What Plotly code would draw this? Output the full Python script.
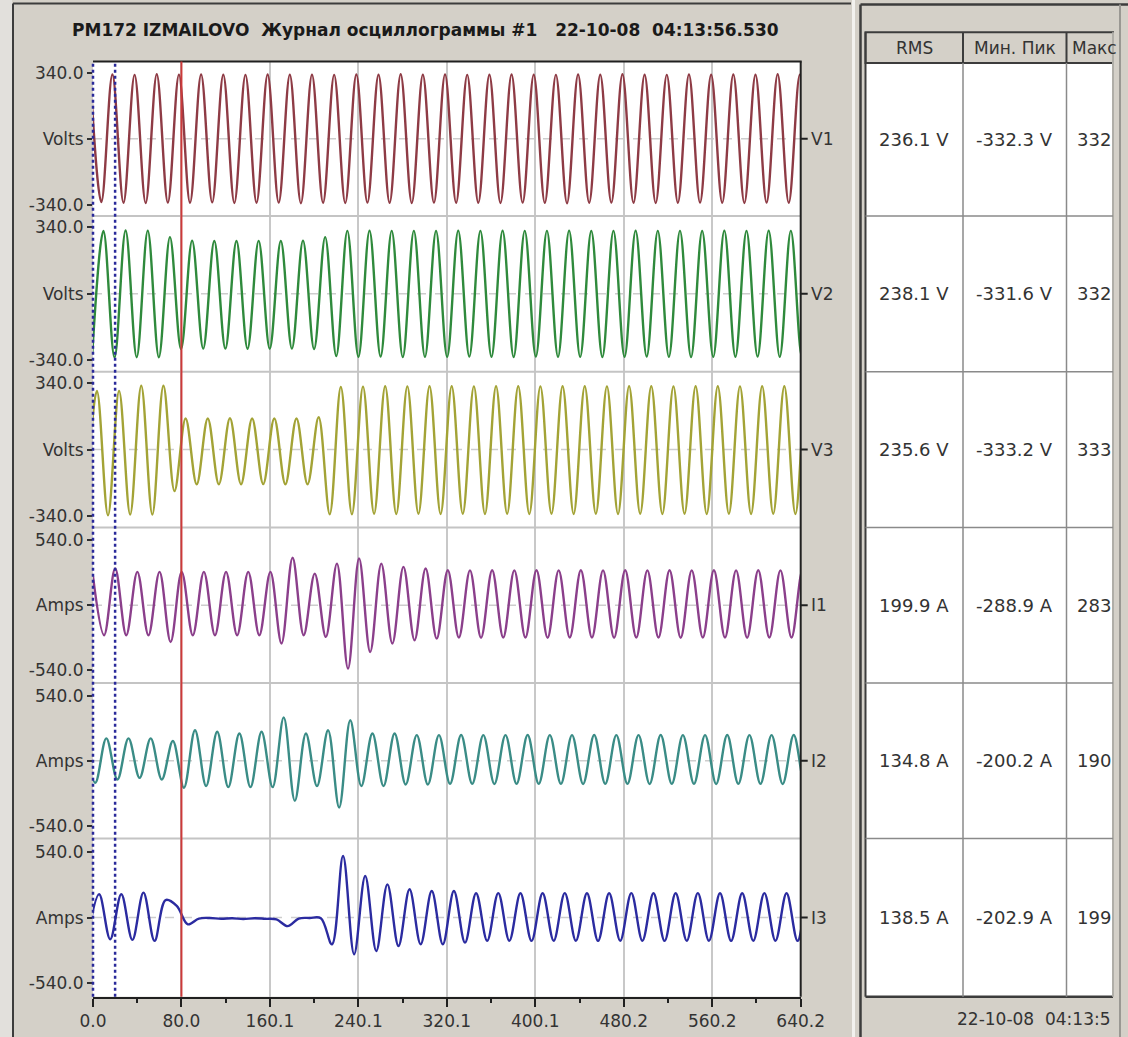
import plotly.graph_objects as go

W, H = 1128, 1037

# ---------------- data ----------------
TITLE = "PM172 IZMAILOVO  Журнал осциллограммы #1   22-10-08  04:13:56.530"
CHANNELS = ["V1", "V2", "V3", "I1", "I2", "I3"]
UNITS = ["Volts", "Volts", "Volts", "Amps", "Amps", "Amps"]
SCALE_MAX = [340.0, 340.0, 340.0, 540.0, 540.0, 540.0]

# waveform extrema (alternating peaks/troughs), read every half cycle
HALF_PERIOD_MS = 10.03
FIRST_EXTREMUM_MS = [-2.5, -0.6, -6.5, 0.0, -8.0, -4.5]

V1_EXT = [330, -326, 331, -330, 329, -331, 332, -329, 330, -330,
          331, -328, 330, -331, 329, -330, 331, -329, 330, -332,
          330, -330, 329, -331, 331, -329, 330, -330, 332, -331,
          330, -329, 331, -330, 329, -330, 330, -331, 331, -329,
          330, -330, 329, -332, 331, -330, 330, -329, 332, -330,
          330, -331, 329, -330, 331, -329, 330, -330, 331, -331,
          330, -329, 332, -330, 330, -331, 330]
V2_EXT = [-300, 322, -325, 324, -324, 323, -324, 290, -282, 272,
          -280, 270, -280, 270, -281, 271, -280, 270, -280, 272,
          -282, 290, -318, 322, -322, 323, -321, 322, -323, 322,
          -322, 321, -322, 323, -321, 322, -322, 323, -323, 322,
          -321, 322, -322, 323, -322, 321, -323, 322, -322, 323,
          -321, 322, -322, 322, -323, 321, -322, 323, -322, 322,
          -321, 323, -322, 322, -323, 322, -322]
V3_EXT = [-330, 300, -336, 300, -332, 326, -332, 326, -212, 159,
          -177, 159, -177, 160, -177, 159, -176, 159, -177, 159,
          -177, 165, -330, 320, -330, 322, -328, 324, -329, 323,
          -328, 324, -329, 324, -328, 323, -329, 324, -328, 324,
          -329, 323, -328, 324, -329, 324, -328, 323, -329, 324,
          -328, 324, -329, 323, -328, 324, -329, 324, -328, 323,
          -329, 324, -328, 324, -329, 323, -328]
I1_EXT = [240, -249, 305, -249, 277, -249, 277, -305, 277, -249,
          277, -249, 277, -249, 277, -249, 277, -318, 395, -249,
          263, -263, 346, -526, 388, -388, 346, -318, 319, -291,
          305, -277, 291, -268, 290, -270, 291, -268, 290, -268,
          291, -270, 290, -268, 291, -268, 290, -270, 291, -268,
          290, -268, 291, -270, 290, -268, 291, -268, 290, -270,
          291, -268, 290, -268, 291, -270, 290]
I2_EXT = [186, -183, 186, -156, 186, -142, 186, -156, 164, -224,
          254, -210, 241, -219, 227, -219, 241, -219, 360, -333,
          227, -210, 254, -388, 336, -210, 227, -210, 227, -197,
          213, -197, 213, -192, 214, -192, 213, -193, 213, -192,
          214, -192, 213, -192, 213, -193, 214, -192, 213, -192,
          213, -193, 214, -192, 213, -192, 213, -193, 214, -192,
          213, -192, 213, -193, 214, -192, 213]
I3_EXT = [-150, 191, -178, 191, -183, 205, -191, 144, 96, -55,
          -8, -3, -10, -5, -12, -5, -10, -15, -70, -8,
          -3, -5, -219, 505, -301, 341, -274, 273, -233, 232,
          -219, 218, -219, 218, -205, 200, -190, 201, -190, 200,
          -191, 200, -190, 201, -190, 200, -191, 200, -190, 201,
          -190, 200, -191, 200, -190, 201, -190, 200, -191, 200,
          -190, 201, -190, 200, -191, 200, -186]
SERIES = [V1_EXT, V2_EXT, V3_EXT, I1_EXT, I2_EXT, I3_EXT]

X_MAX = 640.2
X_TICK_VALS = [0.0, 80.025, 160.05, 240.075, 320.1, 400.125, 480.15, 560.175, 640.2]
X_TICK_TEXT = ["0.0", "80.0", "160.1", "240.1", "320.1", "400.1", "480.2", "560.2", "640.2"]
CURSOR_BLUE_MS = [0.0, 20.0]
CURSOR_RED_MS = 80.0

TABLE_HEADERS = ["RMS", "Мин. Пик", "Макс"]
RMS_TEXT = ["236.1 V", "238.1 V", "235.6 V", "199.9 A", "134.8 A", "138.5 A"]
MIN_PEAK_TEXT = ["-332.3 V", "-331.6 V", "-333.2 V", "-288.9 A", "-200.2 A", "-202.9 A"]
MAX_PEAK_TEXT = ["332", "332", "333", "283", "190", "199"]
FOOTER_TEXT = "22-10-08  04:13:5"

# ---------------- styling / geometry ----------------
COLORS = ["#8e3b45", "#2f8a3c", "#a3a336", "#8b3f8b", "#3a8c86", "#2b2ba0"]
FONT = "DejaVu Sans"
TXT = "#333333"
BG = "#d4d0c8"
PLOT_L, PLOT_R = 93.0, 800.7
PANEL_EDGES = [61.5, 216.0, 371.7, 527.5, 683.0, 838.5, 996.7]
Y_HALF = [398, 398, 398, 646, 646, 649]


def fx(x):
    return x / W


def fy(y):
    return 1 - y / H


def t_to_paper(t):
    # position of a time value on the paper (for unclipped cursor lines)
    return fx(PLOT_L) + (t / X_MAX) * (fx(PLOT_R) - fx(PLOT_L))


fig = go.Figure()
for i, ext in enumerate(SERIES):
    t = [FIRST_EXTREMUM_MS[i] + k * HALF_PERIOD_MS for k in range(len(ext))]
    fig.add_trace(go.Scatter(
        x=t, y=ext, mode="lines", name=CHANNELS[i], showlegend=False,
        xaxis="x", yaxis="y" if i == 0 else f"y{i + 1}",
        line=dict(color=COLORS[i], width=2.4, shape="spline"),
        hoverinfo="skip"))

mids = [(X_TICK_VALS[k] + X_TICK_VALS[k + 1]) / 2 for k in range(len(X_TICK_VALS) - 1)]

layout = dict(
    width=W, height=H, autosize=False,
    margin=dict(l=0, r=0, t=0, b=0, pad=0, autoexpand=False),
    paper_bgcolor=BG, plot_bgcolor="white",
    font=dict(family=FONT, size=17, color=TXT),
    xaxis=dict(domain=[fx(PLOT_L), fx(PLOT_R)], range=[0, X_MAX], anchor="y6",
               tickmode="array", tickvals=X_TICK_VALS, ticktext=X_TICK_TEXT,
               ticks="outside", ticklen=8, tickwidth=2, tickcolor="#202020",
               showline=True, linecolor="#202020", linewidth=2,
               showgrid=True, gridcolor="#c8c8c8", gridwidth=2, zeroline=False,
               automargin=False,
               tickfont=dict(family=FONT, size=17, color=TXT),
               minor=dict(tickmode="array", tickvals=mids, ticks="outside",
                          ticklen=4, tickwidth=2, tickcolor="#202020", showgrid=False)),
    showlegend=False,
)
for i in range(6):
    m = SCALE_MAX[i]
    key = "yaxis" if i == 0 else f"yaxis{i + 1}"
    layout[key] = dict(
        domain=[fy(PANEL_EDGES[i + 1]), fy(PANEL_EDGES[i])],
        range=[-Y_HALF[i], Y_HALF[i]], anchor="x",
        tickmode="array", tickvals=[-m, 0, m],
        ticktext=[f"{-m:.1f}", UNITS[i], f"{m:.1f}"],
        ticks="outside", ticklen=5, tickwidth=2, tickcolor="#303030",
        showgrid=False, zeroline=False, showline=False, automargin=False,
        tickfont=dict(family=FONT, size=17, color=TXT))
fig.update_layout(**layout)

shapes = []
ann = []
DARK = "#3c3c3c"

# window frame pieces
shapes.append(dict(type="rect", xref="paper", yref="paper", x0=0, x1=fx(12), y0=0, y1=1,
                   fillcolor="#e2e0dc", line=dict(width=0), layer="below"))
shapes.append(dict(type="line", xref="paper", yref="paper", x0=fx(13), x1=fx(13),
                   y0=0, y1=fy(3.5), line=dict(color=DARK, width=2)))
shapes.append(dict(type="line", xref="paper", yref="paper", x0=fx(13), x1=fx(851),
                   y0=fy(3.5), y1=fy(3.5), line=dict(color=DARK, width=2)))
shapes.append(dict(type="line", xref="paper", yref="paper", x0=fx(853.5), x1=fx(853.5),
                   y0=0, y1=1, line=dict(color="#f2f1ee", width=3)))

# dashed zero lines
for i in range(6):
    yr = "y" if i == 0 else f"y{i + 1}"
    shapes.append(dict(type="line", xref="x", yref=yr, x0=0, x1=X_MAX, y0=0, y1=0,
                       line=dict(color="#cdcdcd", width=1.5, dash="dash"), layer="below"))

# panel separators
for e in PANEL_EDGES[1:-1]:
    shapes.append(dict(type="line", xref="paper", yref="paper", x0=fx(PLOT_L), x1=fx(PLOT_R),
                       y0=fy(e), y1=fy(e), line=dict(color="#c4c4c4", width=2)))

# plot top and right borders
shapes.append(dict(type="line", xref="paper", yref="paper", x0=fx(PLOT_L), x1=fx(PLOT_R + 1),
                   y0=fy(PANEL_EDGES[0]), y1=fy(PANEL_EDGES[0]), line=dict(color="#202020", width=2)))
shapes.append(dict(type="line", xref="paper", yref="paper", x0=fx(PLOT_R), x1=fx(PLOT_R),
                   y0=fy(PANEL_EDGES[-1]), y1=fy(PANEL_EDGES[0]), line=dict(color="#202020", width=2)))

# cursors
for c in CURSOR_BLUE_MS:
    xp = t_to_paper(c)
    shapes.append(dict(type="line", xref="paper", yref="paper", x0=xp, x1=xp,
                       y0=fy(PANEL_EDGES[-1]), y1=fy(PANEL_EDGES[0]),
                       line=dict(color="#2a2a9a", width=2.5, dash="dot")))
xr = t_to_paper(CURSOR_RED_MS)
shapes.append(dict(type="line", xref="paper", yref="paper", x0=xr, x1=xr,
                   y0=fy(PANEL_EDGES[-1]), y1=fy(PANEL_EDGES[0]),
                   line=dict(color="#cc3a3a", width=2)))

# right channel labels
for i in range(6):
    yr = "y" if i == 0 else f"y{i + 1}"
    shapes.append(dict(type="line", xref="paper", yref=yr, x0=fx(PLOT_R), x1=fx(PLOT_R + 7),
                       y0=0, y1=0, line=dict(color="#202020", width=2)))
    ann.append(dict(xref="paper", yref=yr, x=fx(PLOT_R + 8), y=0, text=CHANNELS[i],
                    showarrow=False, xanchor="left", yanchor="middle",
                    font=dict(family=FONT, size=17, color=TXT)))

# title
ann.append(dict(xref="paper", yref="paper", x=fx(425), y=fy(30), text=f"<b>{TITLE}</b>",
                showarrow=False, xanchor="center", yanchor="middle",
                font=dict(family=FONT, size=17, color="#1a1a1a")))

# ---------------- right table ----------------
TL, TR = 865.5, 1113.0
HDR_T, HDR_B = 32.3, 63.0
COLS = [TL, 963.0, 1066.5, TR]
shapes.append(dict(type="line", xref="paper", yref="paper", x0=fx(860.5), x1=fx(860.5),
                   y0=0, y1=fy(4.5), line=dict(color=DARK, width=2.5)))
shapes.append(dict(type="line", xref="paper", yref="paper", x0=fx(860.5), x1=fx(1128),
                   y0=fy(4.5), y1=fy(4.5), line=dict(color=DARK, width=2.5)))
shapes.append(dict(type="line", xref="paper", yref="paper", x0=fx(1120), x1=fx(1120),
                   y0=0, y1=fy(4.5), line=dict(color="#9a9893", width=2)))
shapes.append(dict(type="rect", xref="paper", yref="paper", x0=fx(TL), x1=fx(TR),
                   y0=fy(PANEL_EDGES[-1]), y1=fy(HDR_B), fillcolor="white",
                   line=dict(width=0)))
shapes.append(dict(type="rect", xref="paper", yref="paper", x0=fx(TL), x1=fx(TR),
                   y0=fy(HDR_B), y1=fy(HDR_T), fillcolor=BG,
                   line=dict(color=DARK, width=2)))
shapes.append(dict(type="line", xref="paper", yref="paper", x0=fx(TL), x1=fx(TL),
                   y0=fy(PANEL_EDGES[-1]), y1=fy(HDR_T), line=dict(color=DARK, width=2)))
shapes.append(dict(type="line", xref="paper", yref="paper", x0=fx(TL), x1=fx(TR),
                   y0=fy(PANEL_EDGES[-1]), y1=fy(PANEL_EDGES[-1]), line=dict(color=DARK, width=2.5)))
shapes.append(dict(type="line", xref="paper", yref="paper", x0=fx(TR), x1=fx(TR),
                   y0=fy(PANEL_EDGES[-1]), y1=fy(HDR_T), line=dict(color="#b0aea8", width=2)))
for cx in COLS[1:3]:
    shapes.append(dict(type="line", xref="paper", yref="paper", x0=fx(cx), x1=fx(cx),
                       y0=fy(HDR_B), y1=fy(HDR_T), line=dict(color=DARK, width=2)))
    shapes.append(dict(type="line", xref="paper", yref="paper", x0=fx(cx), x1=fx(cx),
                       y0=fy(PANEL_EDGES[-1]), y1=fy(HDR_B), line=dict(color="#8a8a8a", width=1.5)))
for e in PANEL_EDGES[1:-1]:
    shapes.append(dict(type="line", xref="paper", yref="paper", x0=fx(TL), x1=fx(TR),
                       y0=fy(e), y1=fy(e), line=dict(color="#8a8a8a", width=1.5)))

hdr_y = (HDR_T + HDR_B) / 2
ann.append(dict(xref="paper", yref="paper", x=fx((COLS[0] + COLS[1]) / 2), y=fy(hdr_y),
                text=TABLE_HEADERS[0], showarrow=False, xanchor="center", yanchor="middle",
                font=dict(family=FONT, size=17, color=TXT)))
ann.append(dict(xref="paper", yref="paper", x=fx((COLS[1] + COLS[2]) / 2), y=fy(hdr_y),
                text=TABLE_HEADERS[1], showarrow=False, xanchor="center", yanchor="middle",
                font=dict(family=FONT, size=17, color=TXT)))
ann.append(dict(xref="paper", yref="paper", x=fx(COLS[2] + 3), y=fy(hdr_y),
                text=TABLE_HEADERS[2], showarrow=False, xanchor="left", yanchor="middle",
                font=dict(family=FONT, size=17, color=TXT)))
for i in range(6):
    yc = (PANEL_EDGES[i] + PANEL_EDGES[i + 1]) / 2
    if i == 0:
        yc = (HDR_B + PANEL_EDGES[1]) / 2
    ann.append(dict(xref="paper", yref="paper", x=fx((COLS[0] + COLS[1]) / 2), y=fy(yc),
                    text=RMS_TEXT[i], showarrow=False, xanchor="center", yanchor="middle",
                    font=dict(family=FONT, size=18, color=TXT)))
    ann.append(dict(xref="paper", yref="paper", x=fx((COLS[1] + COLS[2]) / 2), y=fy(yc),
                    text=MIN_PEAK_TEXT[i], showarrow=False, xanchor="center", yanchor="middle",
                    font=dict(family=FONT, size=18, color=TXT)))
    ann.append(dict(xref="paper", yref="paper", x=fx(TR), y=fy(yc),
                    text=MAX_PEAK_TEXT[i], showarrow=False, xanchor="right", yanchor="middle",
                    font=dict(family=FONT, size=18, color=TXT)))
ann.append(dict(xref="paper", yref="paper", x=fx(TR), y=fy(1019),
                text=FOOTER_TEXT, showarrow=False, xanchor="right", yanchor="middle",
                font=dict(family=FONT, size=17, color=TXT)))

fig.update_layout(shapes=shapes, annotations=ann)
fig.write_html(
    "out.html",
    config={"responsive": False, "displayModeBar": False},
    post_script="document.body.style.margin='0';document.body.style.overflow='hidden';",
)
